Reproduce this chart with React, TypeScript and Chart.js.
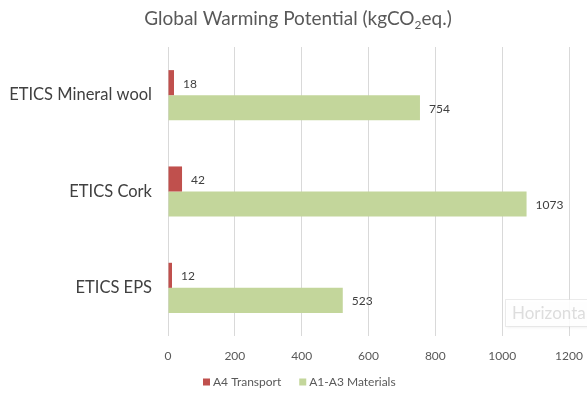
import React, { useEffect, useRef } from "react";
import { Chart, registerables } from "chart.js";

Chart.register(...registerables);

const categories = ["ETICS Mineral wool", "ETICS Cork", "ETICS EPS"];
const transport = [18, 42, 12];
const materials = [754, 1073, 523];
const xTicks = [0, 200, 400, 600, 800, 1000, 1200];

const seriesNames = ["A4 Transport", "A1-A3 Materials"];
const seriesColors = ["#C0504D", "#C3D69B"];

const FONT = "Lato, 'Open Sans', sans-serif";
const TEXT = "#404040";

const titlePlugin = {
  id: "gwpTitle",
  afterDraw(chart: any) {
    const ctx = chart.ctx as CanvasRenderingContext2D;
    ctx.save();
    ctx.fillStyle = "#595959";
    ctx.textBaseline = "alphabetic";
    const big = `19px ${FONT}`;
    const small = `12px ${FONT}`;
    const a = "Global Warming Potential (kgCO";
    const s = "2";
    const b = "eq.)";
    ctx.font = big;
    const wa = ctx.measureText(a).width;
    const wb = ctx.measureText(b).width;
    ctx.font = small;
    const ws = ctx.measureText(s).width;
    const total = wa + ws + wb;
    let x = 298 - total / 2;
    const y = 25;
    ctx.font = big;
    ctx.textAlign = "left";
    ctx.fillText(a, x, y);
    x += wa;
    ctx.font = small;
    ctx.fillText(s, x, y + 4);
    x += ws;
    ctx.font = big;
    ctx.fillText(b, x, y);
    ctx.restore();
  },
};

const valueLabelPlugin = {
  id: "valueLabels",
  afterDatasetsDraw(chart: any) {
    const ctx = chart.ctx as CanvasRenderingContext2D;
    ctx.save();
    ctx.font = `12px ${FONT}`;
    ctx.fillStyle = TEXT;
    ctx.textAlign = "left";
    ctx.textBaseline = "middle";
    chart.data.datasets.forEach((ds: any, di: number) => {
      const meta = chart.getDatasetMeta(di);
      meta.data.forEach((bar: any, i: number) => {
        ctx.fillText(String(ds.data[i]), bar.x + 9, bar.y + 1);
      });
    });
    ctx.restore();
  },
};

const legendPlugin = {
  id: "bottomLegend",
  afterDraw(chart: any) {
    const ctx = chart.ctx as CanvasRenderingContext2D;
    ctx.save();
    ctx.font = `12px ${FONT}`;
    ctx.textBaseline = "middle";
    ctx.textAlign = "left";
    const gap = 18;
    const box = 7;
    const widths = seriesNames.map((n) => box + 3 + ctx.measureText(n).width);
    let x = 203;
    const y = 382;
    seriesNames.forEach((n, i) => {
      ctx.fillStyle = seriesColors[i];
      ctx.fillRect(x, y - box / 2, box, box);
      ctx.fillStyle = "#595959";
      ctx.fillText(n, x + box + 3, y + 0.5);
      x += widths[i] + gap;
    });
    ctx.restore();
  },
};

const hintPlugin = {
  id: "axisHint",
  afterDraw(chart: any) {
    const ctx = chart.ctx as CanvasRenderingContext2D;
    ctx.save();
    ctx.shadowColor = "rgba(0,0,0,0.08)";
    ctx.shadowBlur = 3;
    ctx.shadowOffsetY = 1;
    ctx.fillStyle = "rgba(255,255,255,0.9)";
    ctx.beginPath();
    ctx.rect(505.5, 299.5, 95, 27);
    ctx.fill();
    ctx.shadowColor = "transparent";
    ctx.strokeStyle = "rgba(215,215,215,0.5)";
    ctx.lineWidth = 1;
    ctx.stroke();
    ctx.font = `17px ${FONT}`;
    ctx.fillStyle = "#DDDDDD";
    ctx.textBaseline = "middle";
    ctx.fillText("Horizontal", 512, 314);
    ctx.restore();
  },
};

export default function App() {
  const ref = useRef<HTMLCanvasElement>(null);

  useEffect(() => {
    document.body.style.margin = "0";
    const chart = new Chart(ref.current!, {
      type: "bar",
      data: {
        labels: categories,
        datasets: [
          {
            label: seriesNames[0],
            data: transport,
            backgroundColor: seriesColors[0],
            categoryPercentage: 0.52,
            barPercentage: 1,
          },
          {
            label: seriesNames[1],
            data: materials,
            backgroundColor: seriesColors[1],
            categoryPercentage: 0.52,
            barPercentage: 1,
          },
        ],
      },
      options: {
        indexAxis: "y",
        animation: false,
        responsive: false,
        layout: { padding: { top: 47, right: 18, bottom: 0, left: 0 } },
        plugins: {
          legend: { display: false },
          title: { display: false },
          tooltip: { enabled: false },
        },
        scales: {
          x: {
            min: 0,
            max: 1200,
            afterBuildTicks(scale: any) {
              scale.ticks = xTicks.map((v) => ({ value: v }));
            },
            afterFit(scale: any) {
              scale.height = 58;
              scale.paddingLeft = 0;
              scale.paddingRight = 0;
            },
            grid: { color: "#D9D9D9", drawTicks: false, lineWidth: 1 },
            border: { display: false },
            ticks: {
              padding: 13,
              color: "#595959",
              font: { family: FONT, size: 12 },
              callback: (v: any) => String(v),
            },
          },
          y: {
            afterFit(scale: any) {
              scale.width = 168;
              scale.paddingTop = 0;
              scale.paddingBottom = 0;
            },
            grid: { display: false, drawTicks: false },
            border: { display: false },
            ticks: {
              padding: 16,
              color: TEXT,
              font: { family: FONT, size: 16.5 },
            },
          },
        },
      },
      plugins: [titlePlugin, valueLabelPlugin, legendPlugin, hintPlugin],
    });
    return () => chart.destroy();
  }, []);

  return (
    <div style={{ width: 587, height: 394, background: "#fff" }}>
      <canvas ref={ref} width={587} height={394} />
    </div>
  );
}
